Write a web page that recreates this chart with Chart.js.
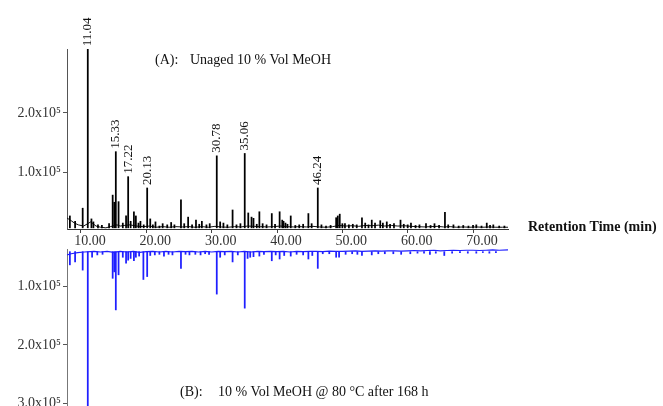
<!DOCTYPE html>
<html><head><meta charset="utf-8">
<script src="https://cdn.jsdelivr.net/npm/chart.js@4/dist/chart.umd.min.js"></script>
<style>
html,body{margin:0;padding:0;background:#fff;width:663px;height:406px;overflow:hidden;position:relative;font-family:"Liberation Serif","Times New Roman",serif;}
#topWrap{position:absolute;left:0;top:0;width:663px;height:250px;}
#botWrap{position:absolute;left:0;top:230px;width:663px;height:219px;}
.note{position:absolute;font-size:14px;color:#111;white-space:nowrap;line-height:16px;}
.bold{font-weight:bold;}
</style></head><body>
<div id="topWrap"><canvas id="topChart" width="663" height="250"></canvas></div>
<div id="botWrap"><canvas id="botChart" width="663" height="219"></canvas></div>
<div class="note" style="left:155px;top:52px">(A):</div>
<div class="note" style="left:190px;top:52px">Unaged 10 % Vol MeOH</div>
<div class="note" style="left:180px;top:384px">(B):</div>
<div class="note" style="left:218px;top:384px">10 % Vol MeOH @ 80 °C after 168 h</div>
<div class="note bold" style="left:528px;top:219px">Retention Time (min)</div>
<script>
// ---- data (retention time in min, abundance in counts) ----
const xTickValues = [10, 20, 30, 40, 50, 60, 70];
const yTopTicks = [100000, 200000];
const yBottomTicks = [100000, 200000, 300000];
const labeledPeaks = [11.04, 15.33, 17.22, 20.13, 30.78, 35.06, 46.24];

// Trace (A): unaged
const peakTimesA = [8.3, 9.1, 10.26, 11.04, 11.6, 11.9, 12.6, 13.2, 14.3, 14.85, 15.1, 15.33, 15.75, 16.4, 16.9, 17.22, 17.6, 18.1, 18.4, 18.8, 19.1, 19.6, 20.13, 20.6, 21.0, 21.4, 22.0, 22.5, 23.2, 23.8, 24.3, 25.3, 25.8, 26.4, 27.0, 27.6, 28.1, 28.5, 29.2, 29.7, 30.78, 31.3, 31.8, 32.4, 33.2, 33.8, 34.4, 35.06, 35.6, 36.1, 36.4, 36.9, 37.3, 37.8, 38.4, 39.2, 39.7, 40.4, 40.8, 41.0, 41.3, 41.6, 42.1, 42.8, 43.4, 44.0, 44.8, 45.3, 46.24, 46.8, 47.5, 48.2, 49.05, 49.3, 49.6, 50.0, 50.4, 51.0, 51.6, 52.2, 53.0, 53.5, 54.0, 54.5, 55.0, 55.8, 56.2, 56.8, 57.3, 57.9, 58.9, 59.4, 60.0, 60.5, 61.2, 61.8, 62.8, 63.5, 64.1, 64.8, 65.7, 66.2, 67.0, 67.8, 68.5, 69.3, 70.0, 70.5, 71.3, 72.1, 72.6, 73.1, 74.0, 74.8];
const peakHeightsA = [27000, 18000, 40000, 307000, 22000, 17000, 12000, 11000, 14000, 62000, 50000, 135000, 51000, 15000, 27000, 93000, 18000, 34000, 27000, 15000, 18000, 12000, 74000, 22000, 12000, 17000, 10000, 14000, 12000, 16000, 12000, 54000, 14000, 25000, 12000, 20000, 13000, 18000, 12000, 14000, 128000, 17000, 15000, 12000, 37000, 12000, 14000, 132000, 32000, 25000, 23000, 13000, 34000, 14000, 12000, 31000, 13000, 34000, 20000, 18000, 15000, 13000, 27000, 11000, 12000, 13000, 31000, 14000, 74000, 12000, 10000, 11000, 24000, 27000, 30000, 14000, 14000, 12000, 13000, 12000, 24000, 15000, 12000, 20000, 15000, 19000, 15000, 17000, 13000, 14000, 20000, 13000, 12000, 15000, 11000, 12000, 14000, 11000, 14000, 11000, 33000, 12000, 12000, 10000, 11000, 10000, 11000, 12000, 10000, 15000, 11000, 12000, 10000, 10000];
const baseTimesA = [7.86, 8.5, 9.0, 9.6, 10.4, 11.5, 12.3, 13.0, 13.8, 14.5, 15.5, 16.0, 16.6, 17.5, 18.5, 19.5, 20.5, 21.5, 22.5, 23.5, 24.5, 25.5, 26.5, 27.5, 28.5, 29.5, 30.5, 31.5, 32.5, 33.5, 34.5, 35.5, 36.5, 37.5, 38.5, 39.5, 40.5, 41.5, 42.5, 43.5, 44.5, 45.5, 46.5, 47.5, 48.5, 49.5, 50.5, 51.5, 52.5, 53.5, 54.5, 55.5, 56.5, 57.5, 58.5, 59.5, 60.5, 61.5, 62.5, 63.5, 64.5, 65.5, 66.5, 67.5, 68.5, 69.5, 70.5, 71.5, 72.5, 73.5, 74.5, 75.35];
const baseLevelsA = [23500, 19000, 15000, 12000, 10000, 17000, 10000, 8000, 7000, 9000, 12000, 10000, 11000, 12000, 10000, 9000, 10000, 8000, 9000, 8000, 9000, 8500, 9000, 8000, 9000, 8000, 9500, 8500, 8000, 9000, 8500, 10000, 9500, 9000, 8500, 9000, 10000, 9000, 8500, 9000, 8500, 9500, 8500, 8000, 9000, 11000, 10000, 10500, 9500, 11000, 10500, 11500, 10000, 11000, 10000, 10500, 9500, 9000, 8500, 9000, 9500, 8500, 9000, 8000, 8500, 8000, 8500, 8000, 8500, 8000, 8000, 8000];

// Trace (B): 10 % Vol MeOH @ 80 °C after 168 h
const peakTimesB = [8.3, 9.1, 10.26, 11.04, 11.7, 12.5, 13.3, 14.85, 15.1, 15.33, 15.75, 16.4, 16.9, 17.22, 17.6, 18.1, 18.4, 18.9, 19.55, 20.13, 20.6, 21.3, 22.0, 22.7, 23.4, 24.0, 25.3, 26.0, 26.6, 27.5, 28.3, 29.0, 29.6, 30.78, 31.3, 32.0, 33.2, 34.0, 35.06, 35.5, 35.9, 36.4, 37.3, 38.0, 39.2, 39.8, 40.4, 41.1, 42.1, 43.0, 44.0, 44.8, 45.4, 46.24, 47.0, 48.0, 49.05, 49.5, 50.5, 51.5, 52.3, 53.0, 54.5, 55.5, 56.5, 57.8, 59.0, 60.4, 61.5, 62.5, 63.4, 64.3, 65.6, 66.8, 68.0, 69.2, 70.5, 71.5, 72.5, 73.5];
const peakHeightsB = [63000, 58000, 72000, 320000, 50000, 46000, 45000, 86000, 75000, 140000, 80000, 50000, 60000, 55000, 52000, 56000, 50000, 48000, 88000, 83000, 47000, 46000, 45000, 48000, 45000, 46000, 69000, 45000, 46000, 45000, 46000, 44000, 45000, 113000, 50000, 46000, 58000, 46000, 137000, 52000, 50000, 49000, 48000, 45000, 56000, 46000, 53000, 47000, 48000, 45000, 46000, 53000, 47000, 69000, 44000, 44000, 50000, 50000, 45000, 44000, 45000, 47000, 46000, 44000, 44000, 44000, 45000, 44000, 43000, 43000, 45000, 43000, 47000, 43000, 42000, 43000, 43000, 42000, 43000, 42000];
const baseTimesB = [7.86, 8.5, 9.5, 10.5, 12.0, 13.0, 14.0, 15.0, 16.0, 17.0, 18.0, 19.0, 20.0, 21.0, 22.0, 23.0, 24.0, 25.0, 26.0, 27.0, 28.0, 29.0, 30.0, 31.0, 32.0, 33.0, 34.0, 35.0, 36.0, 37.0, 38.0, 39.0, 40.0, 41.0, 42.0, 43.0, 44.0, 45.0, 46.0, 47.0, 48.0, 49.0, 50.0, 51.0, 52.0, 53.0, 54.0, 55.0, 56.0, 57.0, 58.0, 59.0, 60.0, 61.0, 62.0, 63.0, 64.0, 65.0, 66.0, 67.0, 68.0, 69.0, 70.0, 71.0, 72.0, 73.0, 74.0, 75.35];
const baseLevelsB = [46000, 44000, 42000, 41000, 40000, 41000, 40000, 41500, 40000, 41000, 40000, 41500, 40500, 40000, 41000, 40000, 41000, 40000, 40500, 40000, 41000, 40000, 41000, 40000, 40500, 40000, 41000, 40000, 41000, 40000, 40500, 40000, 40500, 40000, 41000, 40000, 40500, 40000, 40000, 40500, 39500, 40000, 40000, 39500, 39000, 40000, 39500, 39000, 39500, 39000, 39000, 39500, 39000, 38500, 39000, 38500, 38000, 39000, 38500, 38000, 38500, 38000, 38000, 38500, 38000, 37500, 38000, 37500];

const BASE_A = 7000;
const BASE_B = 40500;

// ---- helpers ----
const serif = '"Liberation Serif", "Times New Roman", serif';
const fmtY = v => (v / 100000).toFixed(1) + 'x10\u2075';

function bars(times, heights, base) {
  return times.map((t, i) => ({ x: t, y: [base, heights[i]] }));
}
function line(times, levels) {
  return times.map((t, i) => ({ x: t, y: levels[i] }));
}

const peakLabelPlugin = {
  id: 'peakLabels',
  afterDatasetsDraw(chart) {
    const { ctx, scales } = chart;
    ctx.save();
    ctx.font = '13px ' + serif;
    ctx.fillStyle = '#111';
    ctx.textAlign = 'left';
    ctx.textBaseline = 'middle';
    labeledPeaks.forEach(t => {
      const i = peakTimesA.indexOf(t);
      const x = scales.x.getPixelForValue(t);
      const y = scales.y.getPixelForValue(peakHeightsA[i]) - 3;
      ctx.save();
      ctx.translate(x, y);
      ctx.rotate(-Math.PI / 2);
      ctx.fillText(t.toFixed(2), 0, 0);
      ctx.restore();
    });
    ctx.restore();
  }
};

const commonX = {
  type: 'linear',
  min: 7.86,
  max: 75.35,
  offset: false,
  afterBuildTicks: s => { s.ticks = xTickValues.map(v => ({ value: v })); },
};

new Chart(document.getElementById('topChart'), {
  type: 'line',
  data: {
    datasets: [
      { type: 'bar', data: bars(peakTimesA, peakHeightsA, BASE_A), backgroundColor: '#000', borderWidth: 0, barThickness: 1.1, grouped: false },
      { type: 'line', data: line(baseTimesA, baseLevelsA), borderColor: '#111', borderWidth: 1, pointRadius: 0, tension: 0 }
    ]
  },
  options: {
    responsive: false, animation: false, devicePixelRatio: 1,
    layout: { padding: { left: 0, right: 155, top: 49, bottom: 0 } },
    plugins: { legend: { display: false }, tooltip: { enabled: false } },
    scales: {
      x: Object.assign({}, commonX, {
        position: 'bottom',
        grid: { display: true, drawOnChartArea: false, drawTicks: true, tickLength: 4, color: '#444', offset: false },
        border: { display: true, color: '#333', width: 1 },
        ticks: { font: { family: serif, size: 14 }, color: '#333', padding: 0, labelOffset: 9, maxRotation: 0, autoSkip: false, callback: v => v.toFixed(2) },
        afterFit: s => { s.height = 21; }
      }),
      y: {
        type: 'linear', position: 'left', min: 5042, max: 307563,
        afterBuildTicks: s => { s.ticks = yTopTicks.map(v => ({ value: v })); },
        grid: { display: true, drawOnChartArea: false, drawTicks: true, tickLength: 4, color: '#555' },
        border: { display: true, color: '#555', width: 1 },
        ticks: { font: { family: serif, size: 14 }, color: '#333', padding: 2, callback: fmtY },
        afterFit: s => { s.width = 67; }
      }
    }
  },
  plugins: [peakLabelPlugin]
});

new Chart(document.getElementById('botChart'), {
  type: 'line',
  data: {
    datasets: [
      { type: 'bar', data: bars(peakTimesB, peakHeightsB, BASE_B), backgroundColor: '#1f1fff', borderWidth: 0, barThickness: 1.1, grouped: false },
      { type: 'line', data: line(baseTimesB, baseLevelsB), borderColor: '#1f1fff', borderWidth: 1.2, pointRadius: 0, tension: 0 }
    ]
  },
  options: {
    responsive: false, animation: false, devicePixelRatio: 1,
    layout: { padding: { left: 0, right: 155, top: 19, bottom: 43 } },
    plugins: { legend: { display: false }, tooltip: { enabled: false } },
    scales: {
      x: Object.assign({}, commonX, { display: false }),
      y: {
        type: 'linear', position: 'left', reverse: true, min: 35897, max: 304274,
        afterBuildTicks: s => { s.ticks = yBottomTicks.map(v => ({ value: v })); },
        grid: { display: true, drawOnChartArea: false, drawTicks: true, tickLength: 4, color: '#555' },
        border: { display: true, color: '#777', width: 1 },
        ticks: { font: { family: serif, size: 14 }, color: '#333', padding: 2, callback: fmtY },
        afterFit: s => { s.width = 67; }
      }
    }
  }
});
</script>
</body></html>
